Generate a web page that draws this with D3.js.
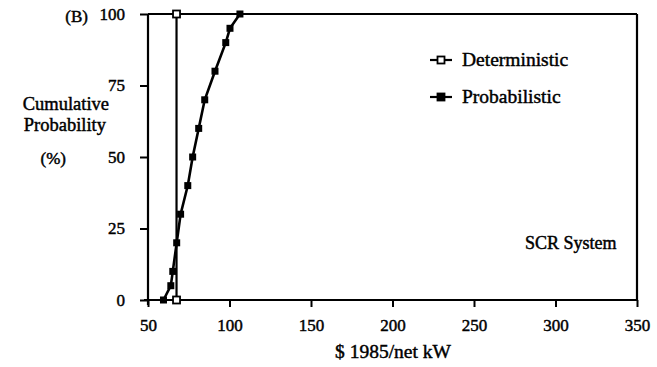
<!DOCTYPE html>
<html><head><meta charset="utf-8">
<script src="https://cdn.jsdelivr.net/npm/d3@7"></script>
<style>
body{margin:0;background:#fff;}
text{font-family:"Liberation Serif","Times New Roman",serif;fill:#000;stroke:#000;stroke-width:0.45px;}
</style></head>
<body><svg id="c" width="657" height="367"></svg>
<script>
const xTicks = [50, 100, 150, 200, 250, 300, 350];
const yTicks = [0, 25, 50, 75, 100];
const detX = [67.5, 67.5];
const detY = [0, 100];
const probX = [59.5, 64, 65.2, 67.6, 70, 74.4, 77.4, 81.1, 84.8, 91.1, 97.7, 100.3, 106.4];
const probY = [0, 5, 10, 20, 30, 40, 50, 60, 70, 80, 90, 95, 100];
const seriesNames = ["Deterministic", "Probabilistic"];

const svg = d3.select("#c");
const x = d3.scaleLinear().domain([50, 350]).range([148, 637]);
const y = d3.scaleLinear().domain([0, 100]).range([300, 14]);
const fs = 17, fw = 19.5;

// axes
const xa = svg.append("g").attr("transform", `translate(0,${y(0)})`)
  .call(d3.axisBottom(x).tickValues(xTicks).tickSize(7).tickPadding(12));
const ya = svg.append("g").attr("transform", `translate(${x(50)},0)`)
  .call(d3.axisLeft(y).tickValues(yTicks).tickSize(8).tickPadding(15));
[xa, ya].forEach(g => {
  g.select(".domain").attr("stroke", "#000").attr("stroke-width", 2.2);
  g.selectAll(".tick line").attr("stroke", "#000").attr("stroke-width", 2);
  g.selectAll(".tick text").attr("font-family", "Liberation Serif").attr("font-size", fs).attr("fill", "#000");
});
xa.select(".domain").attr("d", `M${x(50)-4},0H${x(350)}`);
ya.select(".domain").attr("d", `M0,${y(0)+5}V${y(100)}`);

// frame
svg.append("line").attr("x1", x(50)).attr("x2", x(350)).attr("y1", y(100)).attr("y2", y(100))
  .attr("stroke", "#000").attr("stroke-width", 2.2);
svg.append("line").attr("x1", x(350)).attr("x2", x(350)).attr("y1", y(100)).attr("y2", y(0))
  .attr("stroke", "#000").attr("stroke-width", 2.2);

// series
const line = d3.line().x(d => x(d[0])).y(d => y(d[1]));
const det = detX.map((v, i) => [v, detY[i]]);
const prob = probX.map((v, i) => [v, probY[i]]);
svg.append("path").attr("d", line(det)).attr("fill", "none").attr("stroke", "#000").attr("stroke-width", 2.2);
svg.append("path").attr("d", line(prob)).attr("fill", "none").attr("stroke", "#000").attr("stroke-width", 2.6);
svg.selectAll(".dm").data(det).enter().append("rect")
  .attr("x", d => x(d[0]) - 3.5).attr("y", d => y(d[1]) - 3.5).attr("width", 7).attr("height", 7)
  .attr("fill", "#fff").attr("stroke", "#000").attr("stroke-width", 1.8);
svg.selectAll(".pm").data(prob).enter().append("rect")
  .attr("x", d => x(d[0]) - 3.5).attr("y", d => y(d[1]) - 3.5).attr("width", 7).attr("height", 7)
  .attr("fill", "#000");

// legend
const leg = [{name: seriesNames[0], open: true, yy: 60}, {name: seriesNames[1], open: false, yy: 97}];
leg.forEach(l => {
  svg.append("line").attr("x1", 430).attr("x2", 452).attr("y1", l.yy).attr("y2", l.yy)
    .attr("stroke", "#000").attr("stroke-width", 2.2);
  svg.append("rect").attr("x", 437.5).attr("y", l.yy - 3.5).attr("width", 7).attr("height", 7)
    .attr("fill", l.open ? "#fff" : "#000").attr("stroke", "#000").attr("stroke-width", 1.8);
  svg.append("text").attr("x", 462).attr("y", l.yy + 6).attr("font-size", fw).text(l.name);
});

// labels
svg.append("text").attr("x", 88).attr("y", 22).attr("font-size", fs).attr("text-anchor", "end").text("(B)");
svg.append("text").attr("x", 109).attr("y", 110).attr("font-size", 18.5).attr("text-anchor", "end").text("Cumulative");
svg.append("text").attr("x", 106).attr("y", 131).attr("font-size", 18.5).attr("text-anchor", "end").text("Probability");
svg.append("text").attr("x", 66).attr("y", 164).attr("font-size", fs).attr("text-anchor", "end").text("(%)");
svg.append("text").attr("x", 525).attr("y", 249).attr("font-size", 18).text("SCR System");
svg.append("text").attr("x", 393).attr("y", 358).attr("font-size", fw).attr("text-anchor", "middle").text("$ 1985/net kW");
</script></body></html>
